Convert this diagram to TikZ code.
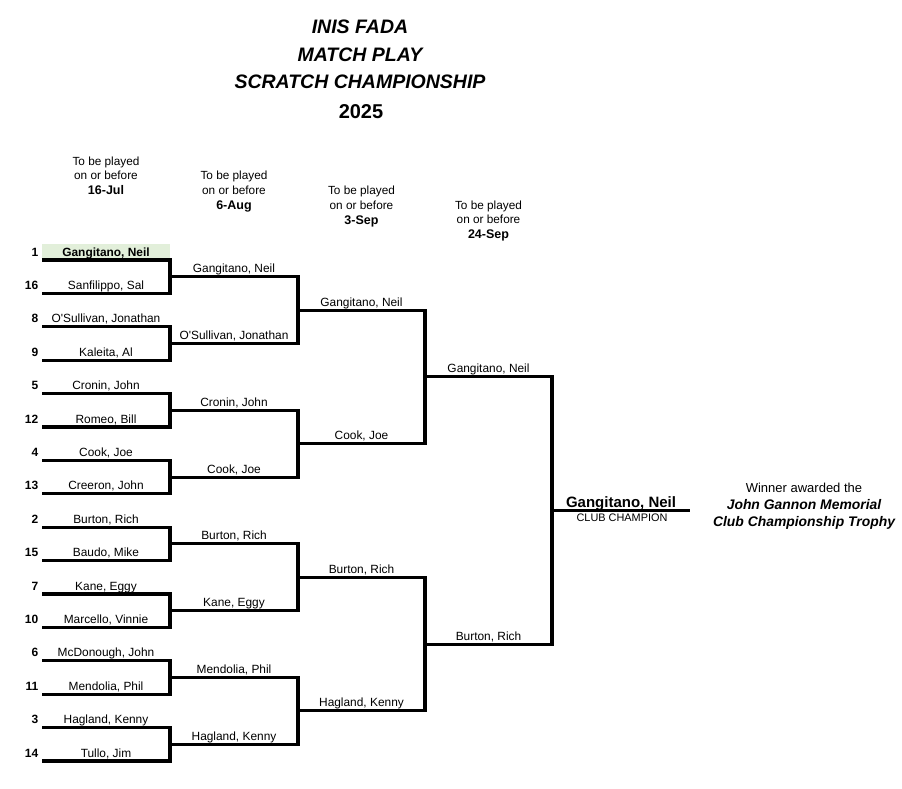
\documentclass[tikz,border=0pt]{standalone}
\usepackage{fontspec}
\setmainfont{Liberation Sans}[Ligatures=TeXOff]
\definecolor{seedgreen}{HTML}{E2EFDA}
\begin{document}
\begin{tikzpicture}[x=1pt,y=-1pt,
  br/.style={line width=3.1pt, line join=miter},
  nm/.style={font=\fontsize{11.9}{14}\selectfont, anchor=base, inner sep=0pt},
  seednum/.style={font=\fontsize{12}{14}\bfseries\selectfont, anchor=base east, inner sep=0pt},
  hdr/.style={font=\fontsize{11.8}{14}\selectfont, anchor=base, inner sep=0pt},
  hdrb/.style={font=\fontsize{12.5}{14}\bfseries\selectfont, anchor=base, inner sep=0pt},
  ttl/.style={font=\fontsize{19.5}{22}\bfseries\itshape\selectfont, anchor=base, inner sep=0pt},
  ]
\useasboundingbox (0,0) rectangle (902,788);

% title
\node[ttl] (t1) at (360,33.3) {INIS FADA};
\node[ttl] (t2) at (360,61) {MATCH PLAY};
\node[ttl] (t3) at (360,88.3) {SCRATCH CHAMPIONSHIP};
\node[ttl,font=\fontsize{20}{22}\bfseries\selectfont] (t4) at (361,118.3) {2025};

% column headers
\foreach \cx/\d [count=\c from 0] in {106/16-Jul, 234/6-Aug, 361.5/3-Sep, 488.5/24-Sep}{
  \node[hdr] (h\c a) at (\cx,{165+14.8*\c}) {To be played};
  \node[hdr] (h\c b) at (\cx,{179.5+14.8*\c}) {on or before};
  \node[hdrb] (h\c c) at (\cx,{194.5+14.8*\c}) {\d};
}

% green highlight of top seed
\fill[seedgreen] (42,244) rectangle (170,258.6);

% round 1 slots
\foreach \i in {0,...,15}{
  \coordinate (p\i) at (42,{260+33.4*\i});
  \coordinate (q\i) at (170,{260+33.4*\i});
}
\foreach \j in {0,...,7}{
  \pgfmathtruncatemacro\t{2*\j}
  \pgfmathtruncatemacro\b{2*\j+1}
  \draw[br] (p\t) -- (q\t) -- (q\b) -- (p\b);
  \coordinate (m\j) at (170,{260+33.4*(2*\j+0.5)});
  \coordinate (n\j) at (298,{260+33.4*(2*\j+0.5)});
}
\foreach \s/\n [count=\i from 0] in {1/{\textbf{Gangitano, Neil}},16/{Sanfilippo, Sal},8/{O'Sullivan, Jonathan},9/{Kaleita, Al},5/{Cronin, John},12/{Romeo, Bill},4/{Cook, Joe},13/{Creeron, John},2/{Burton, Rich},15/{Baudo, Mike},7/{Kane, Eggy},10/{Marcello, Vinnie},6/{McDonough, John},11/{Mendolia, Phil},3/{Hagland, Kenny},14/{Tullo, Jim}}{
  \node[nm] (na\i) at (106,{256+33.4*\i}) {\n};
  \node[seednum] (s\i) at (38.5,{256+33.4*\i}) {\s};
}

% round 2
\foreach \k in {0,...,3}{
  \pgfmathtruncatemacro\t{2*\k}
  \pgfmathtruncatemacro\b{2*\k+1}
  \draw[br] (m\t) -- (n\t) -- (n\b) -- (m\b);
  \coordinate (u\k) at (298,{260+33.4*(4*\k+1.5)});
  \coordinate (v\k) at (425,{260+33.4*(4*\k+1.5)});
}
\foreach \n [count=\i from 0] in {{Gangitano, Neil},{O'Sullivan, Jonathan},{Cronin, John},{Cook, Joe},{Burton, Rich},{Kane, Eggy},{Mendolia, Phil},{Hagland, Kenny}}{
  \node[nm] (nb\i) at (234,{256+33.4*(2*\i+0.5)}) {\n};
}

% round 3
\foreach \k in {0,1}{
  \pgfmathtruncatemacro\t{2*\k}
  \pgfmathtruncatemacro\b{2*\k+1}
  \draw[br] (u\t) -- (v\t) -- (v\b) -- (u\b);
  \coordinate (w\k) at (425,{260+33.4*(8*\k+3.5)});
  \coordinate (z\k) at (552,{260+33.4*(8*\k+3.5)});
}
\foreach \n [count=\i from 0] in {{Gangitano, Neil},{Cook, Joe},{Burton, Rich},{Hagland, Kenny}}{
  \node[nm] (nc\i) at (361.5,{256+33.4*(4*\i+1.5)}) {\n};
}

% round 4
\draw[br] (w0) -- (z0) -- (z1) -- (w1);
\foreach \n [count=\i from 0] in {{Gangitano, Neil},{Burton, Rich}}{
  \node[nm] (nd\i) at (488.5,{256+33.4*(8*\i+3.5)}) {\n};
}

% final
\coordinate (f0) at (552,510.5);
\coordinate (f1) at (690,510.5);
\draw[br] (f0) -- (f1);
\node[nm,font=\fontsize{15}{17}\bfseries\selectfont] (champ) at (621,507) {Gangitano, Neil};
\node[nm,font=\fontsize{10.9}{13}\selectfont] (cc) at (622,521.7) {CLUB CHAMPION};

% trophy text
\node[nm,font=\fontsize{13}{15}\selectfont] (w1t) at (804,492.7) {Winner awarded the};
\node[nm,font=\fontsize{13.9}{16}\bfseries\itshape\selectfont] (w2t) at (804,509.3) {John Gannon Memorial};
\node[nm,font=\fontsize{13.9}{16}\bfseries\itshape\selectfont] (w3t) at (804,526.7) {Club Championship Trophy};
\end{tikzpicture}
\end{document}
